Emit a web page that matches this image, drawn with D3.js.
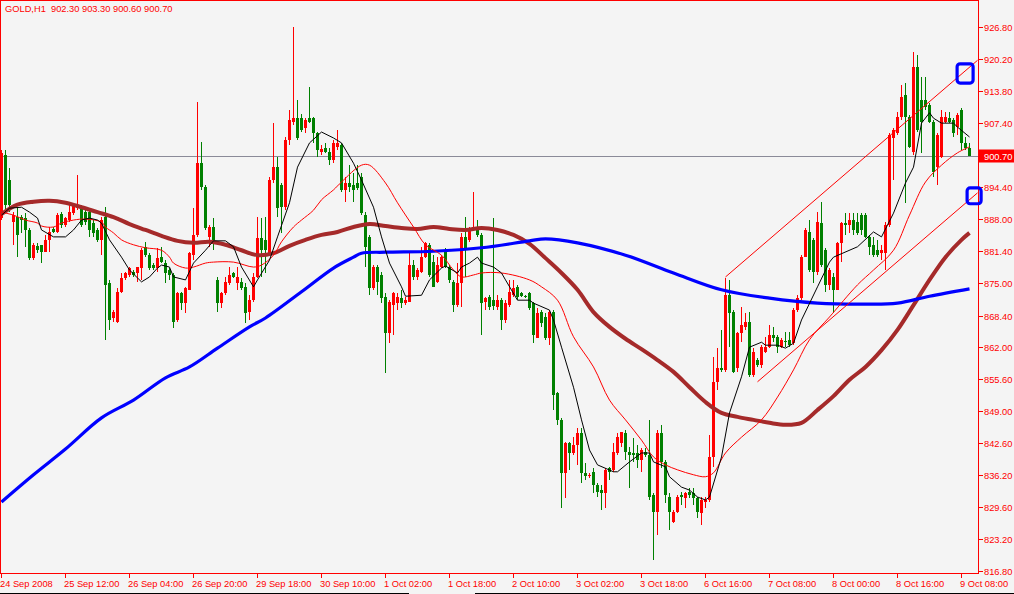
<!DOCTYPE html>
<html><head><meta charset="utf-8">
<script src="https://cdn.jsdelivr.net/npm/d3@7"></script>
<style>
html,body{margin:0;padding:0;background:#f4f4f4;overflow:hidden;}
svg{display:block;}
text{font-family:"Liberation Sans",Arial,sans-serif;}
</style></head><body>
<svg id="c" width="1014" height="594"></svg>
<script>
// ---------- DATA ----------
const symbol = "GOLD,H1";
const lastOHLC = ["902.30", "903.30", "900.60", "900.70"];
const bidPrice = 900.70;

const timeLabels = ["24 Sep 2008","25 Sep 12:00","26 Sep 04:00","26 Sep 20:00","29 Sep 18:00","30 Sep 10:00","1 Oct 02:00","1 Oct 18:00","2 Oct 10:00","3 Oct 02:00","3 Oct 18:00","6 Oct 16:00","7 Oct 08:00","8 Oct 00:00","8 Oct 16:00","9 Oct 08:00"];
const timeLabelBars = [0,16,32,48,64,80,96,112,128,144,160,176,192,208,224,240];

const priceTicks = [926.80,920.20,913.80,907.40,894.40,888.00,881.40,875.00,868.40,862.00,855.60,849.00,842.60,836.20,829.60,823.20,816.80];

const open = [
888.1,900.9,895.8,887.3,888.3,888.3,888.1,885.7,880.0,882.5,
882.7,881.2,883.7,885.9,885.3,888.9,886.7,887.7,889.1,890.1,
890.3,889.3,889.3,887.1,885.7,883.7,888.3,875.0,867.9,867.1,
873.2,876.0,876.6,877.2,877.0,878.0,882.3,880.6,878.6,878.0,
880.2,879.0,877.6,876.6,867.5,873.0,870.9,873.6,880.6,884.7,
899.2,894.4,884.3,886.3,875.6,870.9,873.0,875.0,877.0,875.0,
875.2,874.2,869.1,871.5,876.2,884.1,883.7,881.0,895.8,898.4,
894.8,890.3,903.9,907.5,908.3,908.3,906.3,908.3,908.3,905.3,
901.5,902.3,901.5,899.8,902.5,902.9,893.8,895.2,894.8,895.2,
896.4,888.7,884.3,874.0,878.2,876.6,872.1,864.9,870.5,870.9,
871.9,870.9,871.1,878.6,876.2,877.2,880.2,882.7,879.2,875.2,
878.2,881.2,878.2,875.2,870.5,875.0,884.3,883.7,885.7,886.1,
884.7,871.1,872.1,871.5,870.1,871.5,867.5,870.5,872.5,874.2,
873.0,872.3,873.0,870.9,863.9,869.1,868.1,863.9,869.1,852.7,
847.3,836.6,842.6,840.6,842.2,844.6,836.6,836.0,836.8,834.1,
833.1,832.5,837.6,837.2,840.6,842.6,844.6,840.8,840.6,840.6,
839.2,840.8,840.2,832.1,828.7,844.6,838.8,831.7,826.7,828.7,
832.1,831.5,832.7,832.5,831.5,828.5,830.7,831.1,839.8,855.0,
857.8,857.4,872.5,869.1,857.8,864.9,866.1,867.1,856.4,859.4,
858.4,861.0,862.0,864.5,864.1,862.0,863.2,863.5,862.8,869.5,
871.9,880.2,885.3,883.7,877.2,887.1,881.6,874.6,876.2,873.6,
883.1,887.1,886.7,887.7,887.3,888.7,888.7,884.3,882.7,881.6,
881.0,881.0,886.7,904.3,905.3,908.5,913.0,908.5,901.5,918.7,
912.0,912.0,911.0,907.5,898.4,900.4,907.5,908.3,907.9,906.5,
910.0,903.3,902.3];

const high = [
901.9,901.9,898.2,889.3,890.1,888.7,889.1,886.1,883.1,883.1,
882.7,884.7,886.3,886.3,889.1,889.3,888.3,891.2,891.2,896.8,
890.7,889.7,889.7,887.7,886.1,888.3,890.3,875.6,869.5,874.0,
877.0,877.2,878.2,877.6,878.2,882.1,883.3,881.0,879.0,882.1,
882.3,879.6,878.0,877.0,873.2,873.2,874.2,881.2,890.1,911.6,
903.5,894.8,886.7,888.1,876.2,873.2,876.2,878.2,877.2,878.2,
876.0,875.0,872.5,877.0,888.3,888.1,888.3,896.4,907.3,900.4,
895.2,904.5,910.0,926.7,912.0,909.1,908.3,914.6,908.5,905.5,
902.9,903.3,902.3,903.9,905.9,903.3,896.4,898.8,897.2,898.8,
897.2,889.3,884.7,878.6,878.6,877.2,873.0,871.5,873.2,873.0,
873.6,872.1,881.0,879.6,878.0,882.3,883.3,883.1,880.6,880.2,
880.6,882.1,878.6,875.6,879.0,885.1,888.3,886.3,893.4,887.7,
885.1,872.1,872.5,888.1,872.5,871.9,871.5,875.6,875.6,874.6,
873.2,872.5,873.2,871.1,869.9,869.5,868.9,869.5,869.5,852.9,
847.7,842.8,842.8,843.8,845.7,845.7,838.6,836.6,837.6,834.5,
834.1,837.6,837.8,842.6,844.6,844.8,845.3,841.8,843.6,842.2,
841.6,841.6,847.3,832.5,845.3,846.3,839.2,832.5,829.1,832.1,
832.7,832.7,833.5,833.5,831.7,831.7,831.7,844.2,860.0,861.8,
865.5,876.0,875.6,869.5,865.1,870.1,868.9,869.1,861.8,859.8,
862.4,864.1,866.5,866.1,864.5,863.9,865.1,865.1,869.9,872.5,
880.6,886.1,887.7,884.1,889.3,891.4,882.1,878.0,877.0,883.3,
887.3,889.1,889.1,889.1,889.1,889.1,889.1,884.7,884.3,883.7,
882.7,887.3,905.3,906.3,909.6,915.0,915.4,908.9,921.7,921.1,
916.6,916.6,911.4,907.9,905.3,910.0,909.6,909.6,908.3,909.4,
910.4,904.5,903.3];

const low = [
887.7,889.3,889.3,882.7,880.2,885.1,882.3,879.6,879.6,881.0,
879.0,881.2,881.2,885.1,885.1,886.1,886.3,887.3,888.7,889.7,
886.3,886.7,884.3,884.3,883.3,880.6,863.5,865.5,867.1,866.9,
873.0,875.6,876.2,876.2,875.2,875.6,880.2,877.6,877.6,877.2,
879.0,875.0,875.6,865.9,867.1,869.5,868.9,873.6,879.6,884.3,
893.8,885.7,882.3,881.6,869.1,869.9,872.5,874.6,876.0,873.6,
873.6,866.9,867.5,871.1,876.0,876.2,877.0,880.6,895.2,888.3,
885.1,889.7,902.9,906.9,903.9,905.5,905.3,907.3,903.3,900.4,
900.9,901.3,898.8,899.2,901.9,893.4,891.4,893.4,891.4,893.8,
888.7,878.2,872.5,873.6,872.5,870.9,856.8,862.8,864.5,869.5,
869.9,870.5,871.1,875.6,875.6,877.0,880.0,876.2,874.2,875.0,
878.0,878.0,875.0,869.1,870.1,870.1,876.2,883.3,885.5,884.3,
864.5,869.5,869.5,869.5,869.5,865.5,866.9,870.1,872.1,871.5,
872.1,871.9,869.5,862.8,863.9,866.1,863.5,862.4,849.3,846.3,
829.5,831.5,837.2,840.2,838.2,834.5,835.1,835.5,832.5,831.7,
829.1,829.5,835.1,836.8,840.2,841.8,839.2,833.5,838.8,837.6,
836.8,839.8,831.1,819.0,824.0,837.6,830.5,825.0,826.5,828.5,
830.1,829.5,831.5,830.1,827.5,826.0,829.5,830.7,837.8,853.3,
857.0,857.0,862.0,856.8,857.0,863.0,865.5,856.0,856.0,858.0,
857.8,860.8,861.8,863.0,860.8,861.8,862.0,862.0,862.4,869.1,
871.5,880.2,877.2,875.0,876.6,878.2,873.2,873.6,868.9,873.6,
879.2,884.7,885.1,884.7,884.7,884.7,884.1,880.6,880.2,880.2,
879.6,877.6,886.3,895.8,904.9,907.9,891.2,902.3,900.9,905.5,
901.3,910.0,907.3,896.4,894.8,900.3,907.3,907.3,904.5,904.9,
901.9,901.9,900.6];

const close = [
901.3,890.7,890.7,888.7,884.7,887.7,885.7,880.0,882.7,881.6,
881.2,883.7,885.3,885.3,888.7,886.7,888.1,889.3,890.7,890.7,
886.7,887.3,885.7,885.1,883.7,887.7,874.6,867.5,869.1,873.2,
876.0,877.0,878.0,876.6,878.2,881.6,880.6,878.0,878.0,880.0,
879.2,877.0,876.6,867.1,873.0,870.9,874.0,881.0,884.7,899.2,
894.4,886.1,886.3,883.7,870.9,873.0,875.2,876.6,876.2,876.2,
874.0,868.9,871.5,876.2,884.1,881.6,881.6,895.8,898.4,890.1,
890.3,903.9,907.9,908.3,904.3,905.9,907.9,907.5,905.3,901.9,
902.1,901.5,899.8,903.3,903.3,893.8,895.2,894.4,893.8,894.2,
889.1,882.3,874.0,878.2,875.2,871.9,864.9,871.1,873.0,872.1,
870.9,871.5,878.6,876.2,877.6,880.2,883.1,876.6,874.2,878.6,
880.2,878.2,875.6,870.5,875.0,884.3,881.6,886.1,886.3,884.7,
870.9,871.9,870.1,870.3,871.5,867.5,870.9,873.2,874.0,872.1,
872.3,872.1,869.9,864.5,868.9,866.9,863.9,869.1,852.3,847.3,
836.6,842.6,840.6,842.2,844.6,836.6,836.0,836.2,834.1,832.7,
832.5,837.2,836.8,840.8,843.8,844.8,840.8,840.2,840.2,839.2,
841.2,840.2,831.7,828.7,844.6,838.8,832.1,828.7,828.7,831.7,
831.7,832.5,832.1,831.5,828.7,831.1,831.1,839.8,855.0,857.8,
857.4,872.5,868.9,857.0,864.9,866.5,867.1,856.4,861.0,858.4,
862.0,862.0,864.5,863.9,862.0,863.5,863.0,862.4,869.5,871.9,
880.2,885.7,877.6,877.2,887.3,878.6,874.6,877.6,873.6,883.1,
887.1,886.7,887.7,885.7,885.1,885.7,884.3,882.3,880.6,880.6,
881.6,886.7,904.9,905.9,908.5,912.6,908.5,902.5,918.7,905.9,
907.5,910.6,907.5,897.4,904.9,908.5,908.5,907.5,905.3,908.9,
903.3,902.3,900.7];

// fast moving average (black), read at these bars
const maFastBars = [0,2,5,7,9,10,13,16,18,20,22,24,25,27,30,32,34,35,37,39,40,42,43,46,48,51,53,56,58,60,63,64,67,69,72,74,77,80,83,85,88,90,93,95,97,100,101,105,107,110,111,114,115,117,119,120,123,125,126,129,132,133,137,138,140,143,145,147,149,153,154,157,160,162,163,166,167,170,172,174,176,177,180,182,185,187,190,191,194,196,198,200,204,207,208,214,218,220,223,226,228,230,232,233,235,238,239,242];
const maFastVals = [888.7,890.1,890.3,889.3,888.1,885.7,884.3,884.3,885.7,887.7,888.1,887.7,887.1,883.7,880.2,877.6,876.0,875.2,876.2,878.0,878.6,878.2,876.2,875.6,879.0,881.6,883.5,883.5,882.3,878.2,874.2,875.6,879.6,884.3,891.2,898.4,903.3,905.5,904.3,903.3,899.2,895.8,890.3,884.3,879.0,874.2,872.3,872.5,875.6,878.0,878.4,877.0,878.2,879.0,880.2,879.0,878.2,877.0,875.6,871.5,871.5,870.9,869.5,867.5,862.0,853.9,847.3,841.2,838.2,836.8,836.8,838.8,840.6,840.6,838.8,837.8,835.8,833.7,833.1,831.7,831.1,831.7,839.8,848.7,856.0,862.0,863.0,862.4,862.4,861.8,862.8,867.5,874.2,879.2,880.2,882.3,885.3,884.3,889.1,895.2,898.4,907.3,909.4,908.3,907.3,907.3,906.5,904.5];

// medium moving average (thin red)
const maMidBars = [0,3,6,9,10,13,15,18,21,25,26,28,30,33,36,40,42,43,46,48,51,53,58,63,65,68,70,73,75,78,80,83,85,90,92,96,99,103,106,110,113,115,118,120,125,132,135,139,143,148,152,156,160,163,166,169,173,176,178,181,185,190,194,198,202,207,214,218,223,227,231,235,239,242];
const maMidVals = [889.3,888.7,887.7,887.1,886.5,886.3,887.1,887.7,887.9,887.3,886.3,885.1,883.7,882.7,882.1,881.6,880.2,879.0,878.0,878.2,879.0,879.2,879.2,878.2,878.6,880.6,883.3,886.3,887.7,889.7,891.8,893.8,895.4,898.8,898.8,895.2,891.2,886.3,882.7,880.6,877.6,876.2,876.6,877.0,877.0,875.6,874.2,871.5,864.1,858.0,851.3,847.3,843.2,839.8,838.2,837.2,836.2,835.8,836.6,840.6,843.8,847.3,851.9,857.4,863.5,868.1,874.6,877.6,881.6,888.7,895.4,898.8,901.3,902.5];

// slow moving average (thick dark red)
const maSlowBars = [0,4,8,12,16,20,24,28,32,36,40,44,48,52,56,60,64,68,72,76,80,84,88,92,96,100,104,108,112,116,120,124,128,132,136,140,144,148,152,156,160,164,168,172,176,180,184,188,192,196,200,204,208,212,216,220,224,228,232,236,240,242];
const maSlowVals = [888.9,890.8,891.4,891.6,891.2,890.3,889.3,888.3,886.9,885.7,884.5,883.5,883.1,883.3,882.7,881.6,880.6,881.0,882.5,883.7,884.7,885.3,886.3,886.9,886.5,886.1,885.9,886.3,885.9,885.7,886.1,885.7,884.7,882.9,880.0,877.0,873.6,869.1,866.1,863.7,861.6,859.4,857.0,853.9,850.9,848.7,847.9,847.3,846.7,846.3,846.7,849.3,852.1,855.4,858.0,861.4,865.5,870.5,875.6,880.2,883.7,885.1];

// long moving average (thick blue)
const maLongBars = [0,8,16,25,33,41,47,54,62,66,75,83,88,90,96,108,120,132,136,144,156,168,180,192,204,216,224,232,242];
const maLongVals = [830.7,836.2,841.4,847.7,851.3,855.8,858.0,861.8,866.1,867.9,873.2,878.0,880.2,881.0,881.2,881.4,882.1,883.5,883.9,883.1,880.6,877.0,873.6,871.9,870.9,870.7,870.9,872.3,873.8];

// drawn channel (bar, price) pairs
const channelUpper = [[181, 876.2], [244, 920.0]];
const channelLower = [[189, 855.0], [244, 893.2]];

// hand-drawn marker boxes [bar0, bar1, priceTop, priceBottom]
const markerBoxes = [[238.9, 242.9, 919.3, 915.4], [241.4, 244.9, 894.2, 891.0]];

// ---------- DRAW ----------
const W = 1014, H = 594;
const plotRight = 978.5, plotBottom = 573.5;
const red = "#ff0000", green = "#008000";

const x = d3.scaleLinear().domain([0, 240]).range([1.5, 961.5]);
const y = d3.scaleLinear().domain([816.8, 926.8]).range([570.7, 26.7]);

const svg = d3.select("#c");
svg.append("rect").attr("width", W).attr("height", H).attr("fill", "#f4f4f4");

svg.append("defs").append("clipPath").attr("id", "plot")
  .append("rect").attr("x", 1).attr("y", 1).attr("width", plotRight - 1).attr("height", plotBottom - 1);

const g = svg.append("g").attr("clip-path", "url(#plot)");

// bid line
const by = Math.round(y(bidPrice)) + 0.5;
g.append("line").attr("x1", 0).attr("x2", plotRight).attr("y1", by).attr("y2", by)
  .attr("stroke", "#8a8a98").attr("stroke-width", 1).attr("shape-rendering", "crispEdges");

// candles
const bars = d3.range(open.length).map(i => ({i, o: open[i], h: high[i], l: low[i], c: close[i]}));
const cg = g.append("g").attr("shape-rendering", "crispEdges");
cg.selectAll("line.w").data(bars).join("line").attr("class", "w")
  .attr("x1", d => x(d.i)).attr("x2", d => x(d.i))
  .attr("y1", d => y(d.h)).attr("y2", d => y(d.l))
  .attr("stroke", d => d.c >= d.o ? red : green).attr("stroke-width", 1);
cg.selectAll("rect.b").data(bars).join("rect").attr("class", "b")
  .attr("x", d => x(d.i) - 1.5).attr("width", 3)
  .attr("y", d => y(Math.max(d.o, d.c)))
  .attr("height", d => Math.max(1, Math.abs(y(d.o) - y(d.c))))
  .attr("fill", d => d.c >= d.o ? red : green);

function series(bs, vs) { return bs.map((b, k) => [b, vs[k]]); }
const lineSmooth = d3.line().x(d => x(d[0])).y(d => y(d[1])).curve(d3.curveCatmullRom.alpha(0.5));
const lineStraight = d3.line().x(d => x(d[0])).y(d => y(d[1]));

g.append("path").attr("d", lineSmooth(series(maSlowBars, maSlowVals)))
  .attr("fill", "none").attr("stroke", "#a52a2a").attr("stroke-width", 4).attr("stroke-linejoin", "round");
g.append("path").attr("d", lineSmooth(series(maLongBars, maLongVals)))
  .attr("fill", "none").attr("stroke", "#0000ff").attr("stroke-width", 3.2).attr("stroke-linejoin", "round");
g.append("path").attr("d", lineSmooth(series(maMidBars, maMidVals)))
  .attr("fill", "none").attr("stroke", red).attr("stroke-width", 1);
g.append("path").attr("d", lineStraight(series(maFastBars, maFastVals)))
  .attr("fill", "none").attr("stroke", "#000").attr("stroke-width", 1);

// channel
[channelUpper, channelLower].forEach(ch => {
  g.append("path").attr("d", lineStraight(ch)).attr("fill", "none").attr("stroke", red).attr("stroke-width", 1);
});

// frame & axes
const axisG = svg.append("g").attr("shape-rendering", "crispEdges");
axisG.append("line").attr("x1", 0.5).attr("x2", 0.5).attr("y1", 0).attr("y2", plotBottom).attr("stroke", red);
axisG.append("line").attr("x1", 0).attr("x2", plotRight).attr("y1", 0.5).attr("y2", 0.5).attr("stroke", red);
axisG.append("line").attr("x1", plotRight).attr("x2", plotRight).attr("y1", 0).attr("y2", plotBottom).attr("stroke", red);
axisG.append("line").attr("x1", 0).attr("x2", plotRight).attr("y1", plotBottom).attr("y2", plotBottom).attr("stroke", red);

// price axis
const pt = axisG.selectAll("g.pt").data(priceTicks).join("g").attr("class", "pt")
  .attr("transform", d => `translate(0,${Math.round(y(d)) + 0.5})`);
pt.append("line").attr("x1", plotRight).attr("x2", plotRight + 4).attr("stroke", red);
pt.append("text").attr("x", 984).attr("y", 3.3).attr("fill", red)
  .style("font-size", "9.3px").text(d => d.toFixed(2));

// bid label
svg.append("rect").attr("x", 979).attr("y", by - 7).attr("width", 35).attr("height", 13).attr("fill", red);
svg.append("text").attr("x", 984).attr("y", by + 3.3).attr("fill", "#fff")
  .style("font-size", "9.3px").text(bidPrice.toFixed(2));

// time axis
const tt = axisG.selectAll("g.tt").data(timeLabelBars).join("g").attr("class", "tt")
  .attr("transform", d => `translate(${x(d)},0)`);
tt.append("line").attr("y1", plotBottom).attr("y2", plotBottom + 4).attr("stroke", red);
tt.append("text").attr("x", -1.5).attr("y", 586.5).attr("fill", red)
  .style("font-size", "9.3px").text((d, k) => timeLabels[k]);

// title
svg.append("text").attr("x", 5).attr("y", 11.5).attr("fill", red).style("font-size", "9.3px")
  .style("white-space", "pre").text(symbol + "  " + lastOHLC.join(" "));

// marker boxes
svg.selectAll("rect.mk").data(markerBoxes).join("rect").attr("class", "mk")
  .attr("x", d => x(d[0])).attr("width", d => x(d[1]) - x(d[0]))
  .attr("y", d => y(d[2])).attr("height", d => y(d[3]) - y(d[2]))
  .attr("rx", 3).attr("fill", "none").attr("stroke", "#0000ff").attr("stroke-width", 3.2);

// window bottom edge
svg.append("line").attr("x1", 0).attr("x2", 409).attr("y1", 593.5).attr("y2", 593.5).attr("stroke", "#000");
svg.append("line").attr("x1", 475).attr("x2", W).attr("y1", 593.5).attr("y2", 593.5).attr("stroke", "#000");
</script>
</body></html>
